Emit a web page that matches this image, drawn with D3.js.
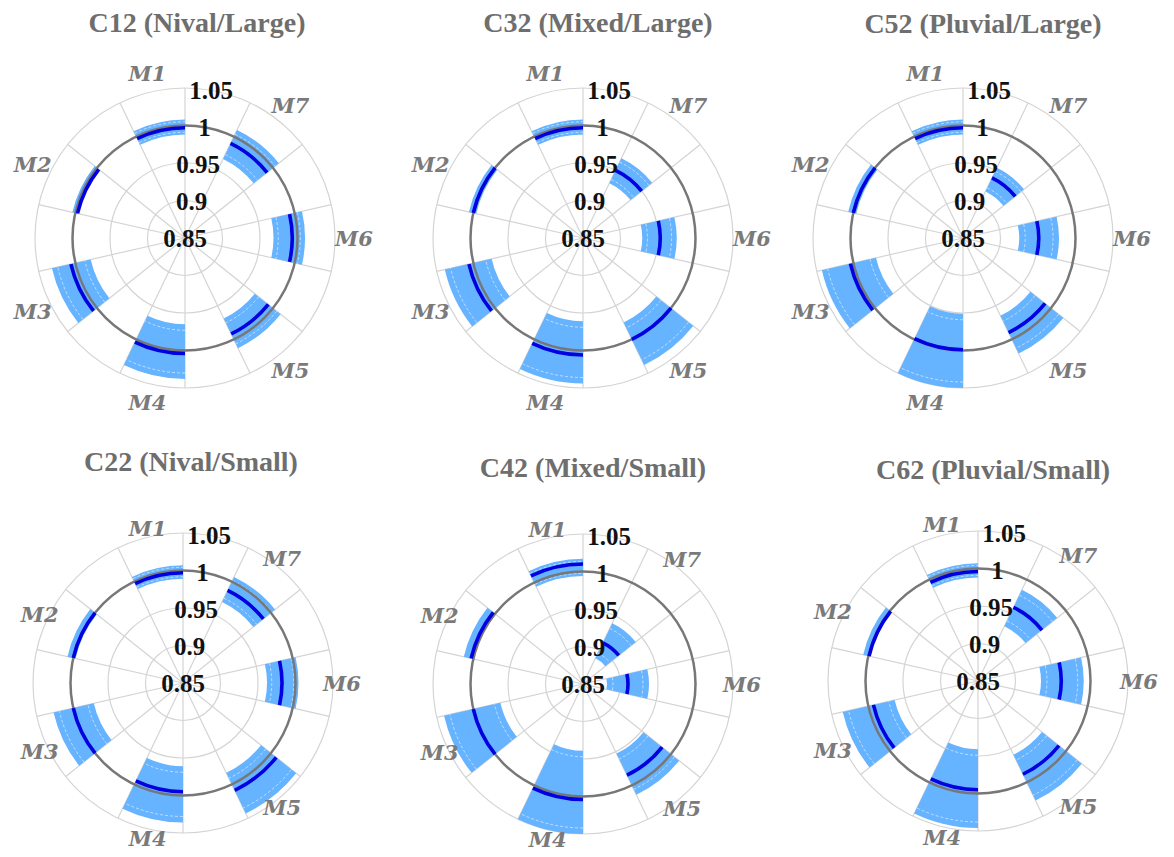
<!DOCTYPE html>
<html>
<head>
<meta charset="utf-8">
<script src="https://cdn.jsdelivr.net/npm/d3@7"></script>
<style>
  body { margin: 0; background: #fff; }
  svg { display: block; }
</style>
</head>
<body>
<svg width="1174" height="857"></svg>
<script>
// categories
var months = ["M1", "M2", "M3", "M4", "M5", "M6", "M7"];
var titles = ["C12 (Nival/Large)", "C32 (Mixed/Large)", "C52 (Pluvial/Large)",
              "C22 (Nival/Small)", "C42 (Mixed/Small)", "C62 (Pluvial/Small)"];
var ticks = [0.85, 0.9, 0.95, 1, 1.05];
var tickLabels = ["0.85", "0.9", "0.95", "1", "1.05"];

// low / high of band, median line (M1..M7)
var c12Low  = [0.988, 0.996, 0.979, 0.965, 0.969, 0.968, 0.967];
var c12High = [1.008, 1.004, 1.032, 1.038, 1.013, 1.010, 1.010];
var c12Med  = [0.997, 0.997, 1.006, 1.004, 0.992, 0.993, 0.990];

var c32Low  = [0.988, 0.996, 0.975, 0.961, 0.975, 0.929, 0.931];
var c32High = [1.008, 1.006, 1.039, 1.044, 1.038, 0.975, 0.968];
var c32Med  = [0.997, 1.000, 1.006, 1.006, 1.000, 0.953, 0.950];

var c52Low  = [0.988, 0.996, 0.969, 0.951, 0.965, 0.925, 0.919];
var c52High = [1.008, 1.007, 1.043, 1.050, 1.021, 0.978, 0.954];
var c52Med  = [0.997, 1.000, 1.004, 0.999, 0.990, 0.951, 0.939];

var c22Low  = [0.989, 0.997, 0.972, 0.961, 0.983, 0.962, 0.970];
var c22High = [1.007, 1.008, 1.027, 1.036, 1.043, 1.004, 1.007];
var c22Med  = [0.997, 1.000, 1.000, 0.995, 1.009, 0.982, 0.987];

var c42Low  = [0.994, 1.000, 0.963, 0.939, 0.953, 0.882, 0.888];
var c42High = [1.017, 1.013, 1.040, 1.050, 1.014, 0.938, 0.940];
var c42Med  = [1.010, 1.003, 1.000, 1.004, 0.985, 0.910, 0.911];

var c62Low  = [0.988, 0.998, 0.964, 0.941, 0.959, 0.934, 0.931];
var c62High = [1.007, 1.007, 1.035, 1.046, 1.027, 0.991, 0.985];
var c62Med  = [0.996, 0.999, 0.993, 0.995, 0.988, 0.961, 0.959];

var panels = [
  {low: c12Low, high: c12High, med: c12Med},
  {low: c32Low, high: c32High, med: c32Med},
  {low: c52Low, high: c52High, med: c52Med},
  {low: c22Low, high: c22High, med: c22Med},
  {low: c42Low, high: c42High, med: c42Med},
  {low: c62Low, high: c62High, med: c62Med}
];

// panel placement (lr = radius of month labels)
var layout = [
  {cx: 185, cy: 238, tx: 197, ty: 32, lr: 169},
  {cx: 583, cy: 238, tx: 598, ty: 32, lr: 169},
  {cx: 963, cy: 238, tx: 983, ty: 33, lr: 169},
  {cx: 183, cy: 683, tx: 191, ty: 471, lr: 159},
  {cx: 583, cy: 684, tx: 593, ty: 477, lr: 159},
  {cx: 978, cy: 681, tx: 993, ty: 479, lr: 161}
];

var svg = d3.select("svg");

var r = d3.scaleLinear().domain([0.85, 1.05]).range([0, 150]);

var step = 2 * Math.PI / 7,
    half = step / 2;

var arc = d3.arc();

function arcPath(rad, a0, a1) {
  var p = d3.path();
  p.arc(0, 0, rad, a0 - Math.PI / 2, a1 - Math.PI / 2);
  return p.toString();
}

panels.forEach(function(d, k) {
  var L = layout[k];
  var g = svg.append("g").attr("transform", "translate(" + L.cx + "," + L.cy + ")");

  // grid circles
  g.selectAll(".ring")
    .data(ticks.slice(1))
    .enter().append("circle")
      .attr("r", function(v) { return r(v); })
      .attr("fill", "none")
      .attr("stroke", "#d4d4d4")
      .attr("stroke-width", 1.2);

  // radial grid lines
  g.selectAll(".spoke")
    .data(d3.range(14))
    .enter().append("line")
      .attr("x1", 0).attr("y1", 0)
      .attr("x2", function(i) { return Math.sin(i * half) * r(1.05); })
      .attr("y2", function(i) { return -Math.cos(i * half) * r(1.05); })
      .attr("stroke", "#d4d4d4")
      .attr("stroke-width", 1.2);

  var bars = months.map(function(m, i) {
    return {
      name: m,
      a0: -i * step - half,
      a1: -i * step,
      low: d.low[i], high: d.high[i], med: d.med[i]
    };
  });

  // band
  g.selectAll(".band")
    .data(bars)
    .enter().append("path")
      .attr("d", function(b) {
        return arc({innerRadius: r(b.low), outerRadius: r(b.high), startAngle: b.a0, endAngle: b.a1});
      })
      .attr("fill", "#66b3ff");

  // thin white lines inside band
  bars.forEach(function(b) {
    var ri = r(b.low), ro = r(b.high), inset = Math.min(6, (ro - ri) * 0.15);
    if (ro - ri < 10) return;
    [ri + inset, ro - inset].forEach(function(rr) {
      g.append("path")
        .attr("d", arcPath(rr, b.a0, b.a1))
        .attr("fill", "none")
        .attr("stroke", "#ffffff")
        .attr("stroke-width", 0.8)
        .attr("stroke-dasharray", "3,2")
        .attr("opacity", 0.7);
    });
  });

  // reference circle at 1
  g.append("circle")
    .attr("r", r(1))
    .attr("fill", "none")
    .attr("stroke", "#777")
    .attr("stroke-width", 2.5);

  // median
  g.selectAll(".med")
    .data(bars)
    .enter().append("path")
      .attr("d", function(b) {
        return arc({innerRadius: r(b.med) - 1.8, outerRadius: r(b.med) + 1.8, startAngle: b.a0, endAngle: b.a1});
      })
      .attr("fill", "#0000e0");

  // month labels
  g.selectAll(".mlab")
    .data(bars)
    .enter().append("text")
      .attr("x", function(b) { return Math.sin((b.a0 + b.a1) / 2) * L.lr; })
      .attr("y", function(b) { return -Math.cos((b.a0 + b.a1) / 2) * L.lr; })
      .attr("text-anchor", "middle")
      .attr("dominant-baseline", "central")
      .style("font", "italic bold 21px 'DejaVu Serif', serif")
      .attr("fill", "#7a7a7a")
      .text(function(b) { return b.name; });

  // radial tick labels
  var ang = 10 * Math.PI / 180;
  g.selectAll(".tlab")
    .data(ticks)
    .enter().append("text")
      .attr("x", function(v) { return Math.sin(ang) * r(v); })
      .attr("y", function(v) { return -Math.cos(ang) * r(v); })
      .attr("text-anchor", "middle")
      .attr("dominant-baseline", "central")
      .style("font", "bold 25px 'Liberation Serif', serif")
      .attr("fill", "#111")
      .text(function(v, i) { return tickLabels[i]; });

  // title
  svg.append("text")
    .attr("x", L.tx)
    .attr("y", L.ty)
    .attr("text-anchor", "middle")
    .style("font", "bold 28px 'Liberation Serif', serif")
    .attr("fill", "#6e6e6e")
    .text(titles[k]);
});
</script>
</body>
</html>
